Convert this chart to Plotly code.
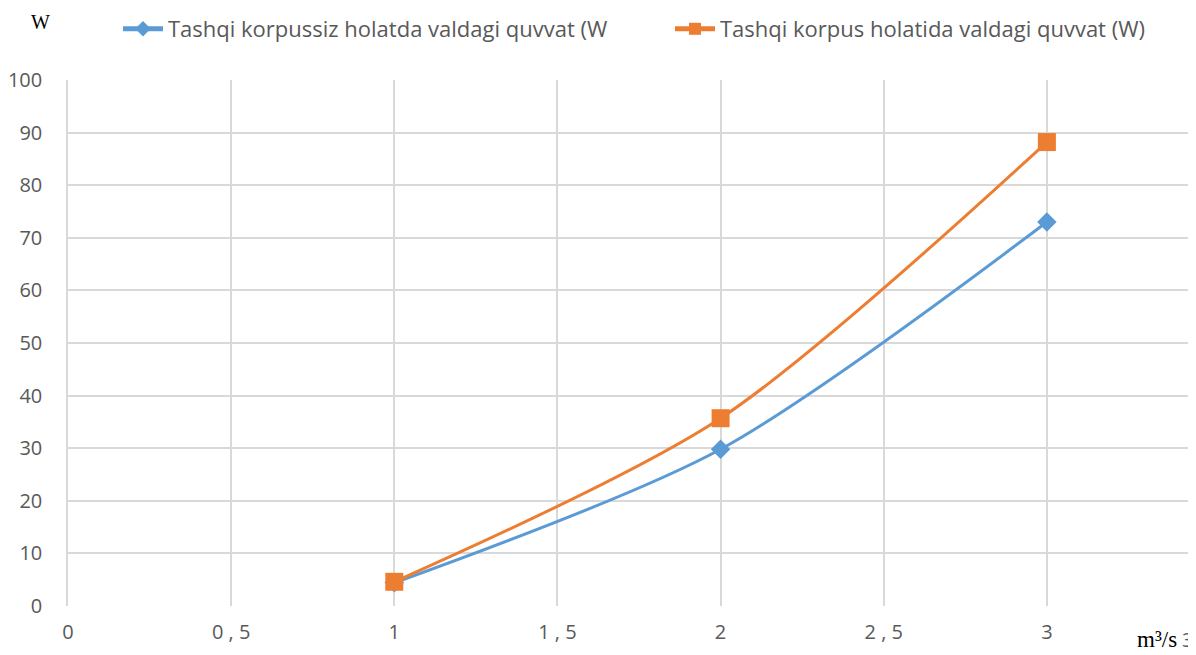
import plotly.graph_objects as go

x_vals = [1, 2, 3]
blue_vals = [4.4, 29.8, 73.0]
orange_vals = [4.6, 35.7, 88.2]
series_names = ["Tashqi korpussiz holatda valdagi quvvat (W",
                "Tashqi korpus holatida valdagi quvvat (W)"]
x_ticks = [0, 0.5, 1, 1.5, 2, 2.5, 3]
x_tick_text = ["0", "0 , 5", "1", "1 , 5", "2", "2 , 5", "3"]
y_ticks = [0, 10, 20, 30, 40, 50, 60, 70, 80, 90, 100]

fig = go.Figure()
fig.add_trace(go.Scatter(
    x=x_vals, y=blue_vals, name=series_names[0], mode="lines+markers",
    line=dict(color="#5B9BD5", width=3, shape="spline", smoothing=0.8),
    marker=dict(symbol="diamond", size=15, color="#5B9BD5"),
    legend="legend",
))
fig.add_trace(go.Scatter(
    x=x_vals, y=orange_vals, name=series_names[1], mode="lines+markers",
    line=dict(color="#ED7D31", width=3, shape="spline", smoothing=0.8),
    marker=dict(symbol="square", size=18, color="#ED7D31"),
    legend="legend2",
))

W, H = 1188, 647
grid = "#d9d9d9"
leg_common = dict(orientation="h", yref="container", y=1.0, yanchor="top",
                  xanchor="left", xref="container",
                  font=dict(size=22, color="#595959"),
                  itemwidth=40, itemsizing="constant", bgcolor="rgba(0,0,0,0)")
fig.update_layout(
    width=W, height=H,
    margin=dict(l=60, r=0, t=72, b=49),
    paper_bgcolor="white", plot_bgcolor="white",
    font=dict(family="Open Sans, Noto Sans, sans-serif", size=20, color="#595959"),
    showlegend=True,
    legend=dict(x=110 / W, **leg_common),
    legend2=dict(x=662 / W, **leg_common),
    xaxis=dict(range=[0, 3.457], tickvals=x_ticks, ticktext=x_tick_text,
               showgrid=True, gridcolor=grid, gridwidth=1.5, zeroline=False,
               showline=False, ticks="", ticklabelstandoff=12, automargin=False),
    yaxis=dict(range=[0, 100], tickvals=y_ticks, showgrid=True, gridcolor=grid,
               gridwidth=1.5, zeroline=False, showline=True, linecolor=grid,
               linewidth=1.5, ticks="", ticklabelstandoff=20, automargin=False),
    annotations=[
        dict(text="W", xref="paper", yref="paper", x=-0.0248, y=1.11,
             xanchor="center", yanchor="middle", showarrow=False,
             font=dict(family="Liberation Serif, Times New Roman, serif", size=20, color="#000000")),
        dict(text="m³/s", xref="paper", yref="paper", x=0.965, y=-0.0646,
             xanchor="center", yanchor="middle", showarrow=False,
             font=dict(family="Liberation Serif, Times New Roman, serif", size=23, color="#000000")),
        dict(text="3 , 5", xref="paper", yref="paper", x=1.0, y=-0.0646,
             xanchor="left", yanchor="middle", showarrow=False, xshift=-16,
             font=dict(size=20, color="#595959")),
    ],
)

fig.write_html("out.html")
